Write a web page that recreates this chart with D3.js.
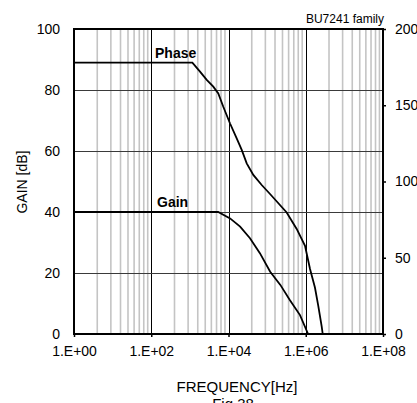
<!DOCTYPE html>
<html>
<head>
<meta charset="utf-8">
<script src="https://cdn.jsdelivr.net/npm/d3@7"></script>
<style>
  body { margin: 0; background: #fff; }
  svg { display: block; font-family: "Liberation Sans", Arial, sans-serif; }
</style>
</head>
<body>
<svg id="chart"></svg>
<script>
// frequency response data
const gainFreq  = [1, 5.4e3, 1.1e4, 2.0e4, 3.6e4, 6.5e4, 1.2e5, 2.2e5, 3.9e5, 7.1e5, 1.15e6];
const gainDb    = [40, 40, 37.9, 35.2, 31.4, 26.5, 20.4, 16.1, 11.1, 6.2, 0];

const phaseFreq = [1, 1.16e3, 1.83e3, 2.73e3, 4.04e3, 5.44e3, 7.33e3, 1.09e4, 1.63e4, 2.2e4, 2.96e4,
                   4.39e4, 7.24e4, 1.19e5, 3.21e5, 5.83e5, 9.57e5, 1.29e6, 1.73e6, 2.11e6, 2.59e6, 2.75e6];
const phaseDeg  = [178, 178, 172, 166.6, 162.2, 157.8, 149, 138.2, 128.3, 120.7, 111.9,
                   104.3, 97.7, 91.8, 79.7, 68.9, 57.8, 42.6, 30.5, 18.4, 4.8, 0];

const freqTicks  = [1, 1e2, 1e4, 1e6, 1e8];
const freqLabels = ["1.E+00", "1.E+02", "1.E+04", "1.E+06", "1.E+08"];
const gainTicks  = [0, 20, 40, 60, 80, 100];
const phaseTicks = [0, 50, 100, 150, 200];

const width = 417, height = 403;
const margin = { top: 29, right: 34, bottom: 69, left: 74 };
const innerW = width - margin.left - margin.right;   // 309
const innerH = height - margin.top - margin.bottom;  // 305

const svg = d3.select("#chart").attr("width", width).attr("height", height);

const x = d3.scaleLog().domain([1, 1e8]).range([margin.left, margin.left + innerW]);
const yGain = d3.scaleLinear().domain([0, 100]).range([margin.top + innerH, margin.top]);
const yPhase = d3.scaleLinear().domain([0, 200]).range([margin.top + innerH, margin.top]);

const plotTop = margin.top, plotBottom = margin.top + innerH;
const plotLeft = margin.left, plotRight = margin.left + innerW;

// minor gridlines: Excel style log axis with a major unit of two decades
const minor = [];
for (let n = 0; n < 4; n++) {
    for (let k = 2; k <= 9; k++) minor.push(Math.pow(100, n) * k * k);
}
svg.append("g").selectAll("line")
    .data(minor)
    .join("line")
    .attr("x1", d => x(d)).attr("x2", d => x(d))
    .attr("y1", plotTop).attr("y2", plotBottom)
    .attr("stroke", "#c4c4c4")
    .attr("stroke-width", 1.6);

// major vertical gridlines
svg.append("g").selectAll("line")
    .data(freqTicks.slice(1, -1))
    .join("line")
    .attr("x1", d => Math.round(x(d)) + 0.5).attr("x2", d => Math.round(x(d)) + 0.5)
    .attr("y1", plotTop).attr("y2", plotBottom)
    .attr("stroke", "#000")
    .attr("stroke-width", 1);

// horizontal gridlines
svg.append("g").selectAll("line")
    .data(gainTicks.slice(1, -1))
    .join("line")
    .attr("x1", plotLeft).attr("x2", plotRight)
    .attr("y1", d => Math.round(yGain(d)) + 0.5).attr("y2", d => Math.round(yGain(d)) + 0.5)
    .attr("stroke", "#3a3a3a")
    .attr("stroke-width", 1);

// curves
const line = d3.line();
svg.append("path")
    .attr("d", line(gainFreq.map((f, i) => [x(f), yGain(gainDb[i])])))
    .attr("fill", "none")
    .attr("stroke", "#000")
    .attr("stroke-width", 1.8);

svg.append("path")
    .attr("d", line(phaseFreq.map((f, i) => [x(f), yPhase(phaseDeg[i])])))
    .attr("fill", "none")
    .attr("stroke", "#000")
    .attr("stroke-width", 1.8);

// frame
svg.append("rect")
    .attr("x", plotLeft).attr("y", plotTop)
    .attr("width", innerW).attr("height", innerH)
    .attr("fill", "none")
    .attr("stroke", "#000")
    .attr("stroke-width", 2);

// axes
const xAxis = d3.axisBottom(x).tickValues(freqTicks)
    .tickFormat((d, i) => freqLabels[i]).tickSizeInner(3).tickSizeOuter(0).tickPadding(9);
const gx = svg.append("g").attr("transform", `translate(0,${plotBottom})`).call(xAxis);

const yAxisL = d3.axisLeft(yGain).tickValues(gainTicks).tickSizeInner(0).tickSizeOuter(0).tickPadding(14);
const gl = svg.append("g").attr("transform", `translate(${plotLeft},0)`).call(yAxisL);

const yAxisR = d3.axisRight(yPhase).tickValues(phaseTicks).tickSizeInner(3).tickSizeOuter(0).tickPadding(9);
const gr = svg.append("g").attr("transform", `translate(${plotRight},0)`).call(yAxisR);

[gx, gl, gr].forEach(g => {
    g.select(".domain").remove();
    g.selectAll("text").attr("font-size", 14).attr("fill", "#000")
        .attr("font-family", "'Liberation Sans', Arial, sans-serif");
    g.selectAll("line").attr("stroke", "#000").attr("stroke-width", 1.5);
});

// labels
svg.append("text")
    .attr("x", plotRight + 1).attr("y", 23)
    .attr("text-anchor", "end")
    .attr("font-size", 12)
    .text("BU7241 family");

svg.append("text")
    .attr("x", 155).attr("y", 58)
    .attr("font-size", 14).attr("font-weight", "bold")
    .text("Phase");

svg.append("text")
    .attr("x", 157).attr("y", 207)
    .attr("font-size", 14).attr("font-weight", "bold")
    .text("Gain");

svg.append("text")
    .attr("transform", `translate(27,182) rotate(-90)`)
    .attr("text-anchor", "middle")
    .attr("font-size", 14)
    .text("GAIN [dB]");

svg.append("text")
    .attr("x", 237).attr("y", 392)
    .attr("text-anchor", "middle")
    .attr("font-size", 15)
    .text("FREQUENCY[Hz]");

// figure caption, cut off by the bottom edge as in the source image
svg.append("text")
    .attr("x", 233).attr("y", 409)
    .attr("text-anchor", "middle")
    .attr("font-size", 15)
    .text("Fig.38");
</script>
</body>
</html>
